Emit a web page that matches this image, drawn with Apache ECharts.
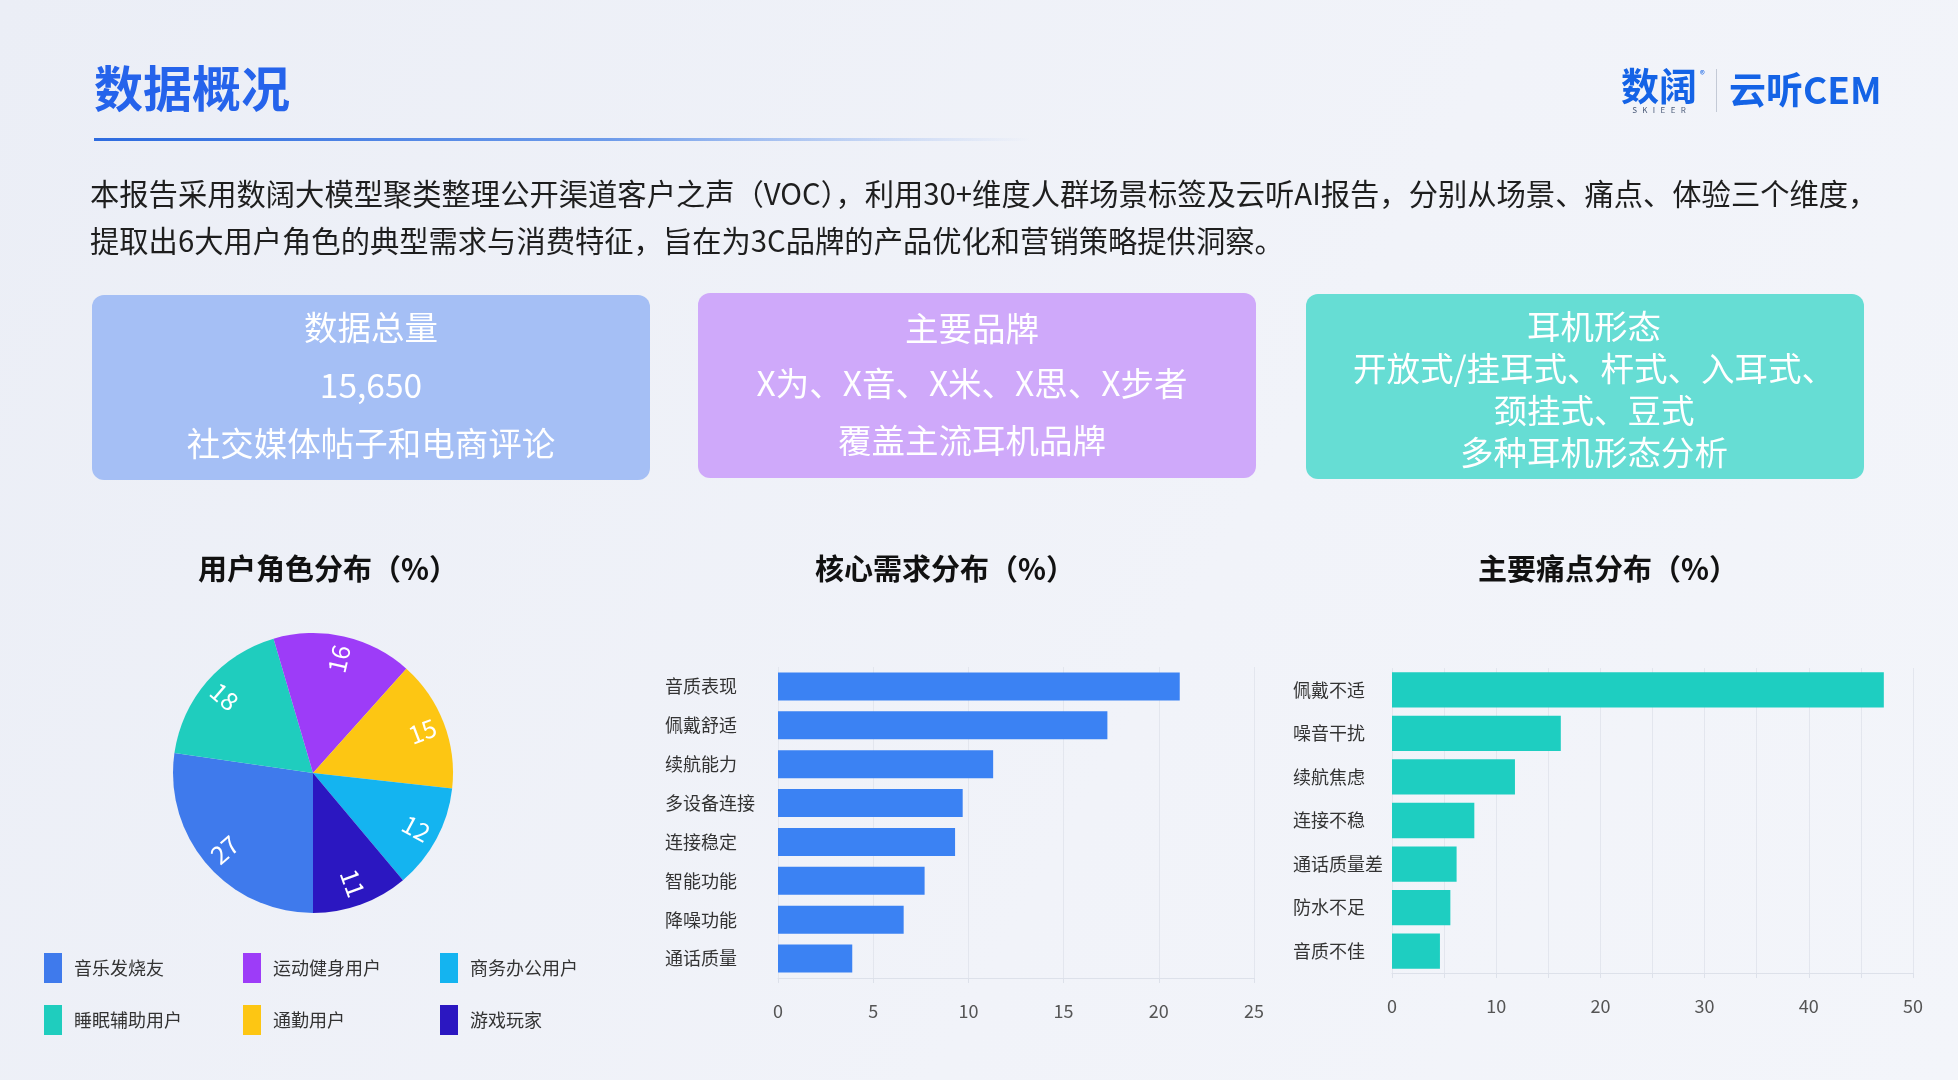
<!DOCTYPE html>
<html>
<head>
<meta charset="utf-8">
<script src="https://cdn.jsdelivr.net/npm/echarts@6/dist/echarts.min.js"></script>
<style>
  html, body { margin: 0; padding: 0; }
  #main { width: 1958px; height: 1080px; }
</style>
</head>
<body>
<div id="main"></div>
<script>
var FONT = '"Noto Sans CJK SC", "Noto Sans", sans-serif';

// 用户角色分布（%）
var roleNames = ['音乐发烧友', '睡眠辅助用户', '运动健身用户', '通勤用户', '商务办公用户', '游戏玩家'];
var roleValues = [27, 18, 16, 15, 12, 11];
var roleColors = ['#3F7AEC', '#1FCDBE', '#9D3CF8', '#FDC613', '#14B4F0', '#2B17C1'];

// 核心需求分布（%）
var needNames = ['音质表现', '佩戴舒适', '续航能力', '多设备连接', '连接稳定', '智能功能', '降噪功能', '通话质量'];
var needValues = [21.1, 17.3, 11.3, 9.7, 9.3, 7.7, 6.6, 3.9];

// 主要痛点分布（%）
var painNames = ['佩戴不适', '噪音干扰', '续航焦虑', '连接不稳', '通话质量差', '防水不足', '音质不佳'];
var painValues = [47.2, 16.2, 11.8, 7.9, 6.2, 5.6, 4.6];

// 顶部卡片
var cardLines = [
    ['数据总量', '15,650', '社交媒体帖子和电商评论'],
    ['主要品牌', 'X为、X音、X米、X思、X步者', '覆盖主流耳机品牌'],
    ['耳机形态', '开放式/挂耳式、杆式、入耳式、', '颈挂式、豆式', '多种耳机形态分析']
];
var introLines = [
    '本报告采用数阔大模型聚类整理公开渠道客户之声（VOC），利用30+维度人群场景标签及云听AI报告，分别从场景、痛点、体验三个维度，',
    '提取出6大用户角色的典型需求与消费特征，旨在为3C品牌的产品优化和营销策略提供洞察。'
];

var myChart = echarts.init(document.getElementById('main'));

// 卡片图形
var cardBox = [
    {x: 92, y: 295, color: '#A5BFF5', dx: 0, ys: [327, 385, 443]},
    {x: 698, y: 293, color: '#CFA9FA', dx: -5, ys: [328, 383, 440]},
    {x: 1306, y: 294, color: '#66DDD4', dx: 9, ys: [326, 368, 410, 452]}
];
var graphics = [];
cardBox.forEach(function (c, i) {
    graphics.push({
        type: 'rect', shape: {x: c.x, y: c.y, width: 558, height: 185, r: 12},
        style: {fill: c.color}
    });
    cardLines[i].forEach(function (t, j) {
        graphics.push({
            type: 'text', x: c.x + 279 + c.dx, y: c.ys[j],
            style: {text: t, fill: '#fff', font: '33.5px ' + FONT, textAlign: 'center', textVerticalAlign: 'middle'}
        });
    });
});

// 标题、分隔线、logo、简介
graphics.push(
    {type: 'text', x: 94, y: 88, style: {text: '数据概况', fill: '#2563EB', font: 'bold 49px ' + FONT, textVerticalAlign: 'middle'}},
    {type: 'rect', shape: {x: 94, y: 138, width: 936, height: 3},
        style: {fill: {type: 'linear', x: 0, y: 0, x2: 1, y2: 0, colorStops: [
            {offset: 0, color: '#2D6BDF'}, {offset: 0.55, color: '#6D9BEA'}, {offset: 1, color: 'rgba(140,175,240,0)'}]}}},
    {type: 'text', x: 1621, y: 86, style: {text: '数阔', fill: '#1463E6', font: 'bold 38px ' + FONT, textVerticalAlign: 'middle'}},
    {type: 'text', x: 1700, y: 74, style: {text: '®', fill: '#1463E6', font: '10px ' + FONT, textVerticalAlign: 'middle'}},
    {type: 'text', x: 1659, y: 110, style: {text: 'S   K   I   E   E   R', fill: '#4A5A78', font: '8px ' + FONT, textAlign: 'center', textVerticalAlign: 'middle'}},
    {type: 'rect', shape: {x: 1716, y: 69, width: 1, height: 43}, style: {fill: '#C4CAD6'}},
    {type: 'text', x: 1729, y: 90, style: {text: '云听CEM', fill: '#1463E6', font: 'bold 37px ' + FONT, textVerticalAlign: 'middle'}}
);
introLines.forEach(function (t, j) {
    graphics.push({type: 'text', x: 90, y: 194 + j * 47,
        style: {text: t, fill: '#1E1E1E', font: '29.3px ' + FONT, textVerticalAlign: 'middle'}});
});

var legendCols = [[0, 1], [2, 3], [4, 5]];
var legendLeft = [44, 243, 440];
var legends = legendCols.map(function (col, k) {
    return {
        left: legendLeft[k], top: 953, orient: 'vertical', padding: 0,
        itemWidth: 18, itemHeight: 30, itemGap: 22, icon: 'rect',
        selectedMode: false,
        textStyle: {fontSize: 18, color: '#333', fontFamily: FONT, padding: [0, 0, 0, 7]},
        data: col.map(function (i) {
            return {name: roleNames[i], itemStyle: {color: roleColors[i]}};
        })
    };
});

var pieData = roleNames.map(function (n, i) {
    return {name: n, value: roleValues[i], itemStyle: {color: roleColors[i]}};
});

var titleFont = {fontSize: 29, fontWeight: 'bold', color: '#111', fontFamily: FONT};

var option = {
    backgroundColor: {type: 'linear', x: 0, y: 0, x2: 1, y2: 1, colorStops: [
        {offset: 0, color: '#EBEEF6'}, {offset: 0.6, color: '#F1F3F9'}, {offset: 1, color: '#F3F5FA'}]},
    animation: false,
    graphic: graphics,
    title: [
        {text: '用户角色分布（%）', left: 328, top: 554, padding: 0, textAlign: 'center', textStyle: titleFont},
        {text: '核心需求分布（%）', left: 945, top: 554, padding: 0, textAlign: 'center', textStyle: titleFont},
        {text: '主要痛点分布（%）', left: 1608, top: 554, padding: 0, textAlign: 'center', textStyle: titleFont}
    ],
    legend: legends,
    grid: [
        {left: 778, right: 704, top: 667, bottom: 102},
        {left: 1392, right: 45, top: 668, bottom: 107}
    ],
    xAxis: [
        {
            type: 'value', gridIndex: 0, min: 0, max: 25, interval: 5,
            axisLine: {show: true, lineStyle: {color: '#DDE1EA'}},
            axisTick: {show: true, lineStyle: {color: '#DDE1EA'}},
            splitLine: {lineStyle: {color: '#E3E6EE'}},
            axisLabel: {fontSize: 18, color: '#555', margin: 24, fontFamily: FONT}
        },
        {
            type: 'value', gridIndex: 1, min: 0, max: 50, interval: 5,
            axisLine: {show: true, lineStyle: {color: '#DDE1EA'}},
            axisTick: {show: true, lineStyle: {color: '#DDE1EA'}},
            splitLine: {lineStyle: {color: '#E3E6EE'}},
            axisLabel: {fontSize: 18, color: '#555', margin: 24, fontFamily: FONT,
                formatter: function (v) { return v % 10 === 0 ? v : ''; }}
        }
    ],
    yAxis: [
        {
            type: 'category', gridIndex: 0, data: needNames, inverse: true,
            axisLine: {show: false}, axisTick: {show: false},
            axisLabel: {align: 'left', margin: 113, fontSize: 18, color: '#333', fontFamily: FONT}
        },
        {
            type: 'category', gridIndex: 1, data: painNames, inverse: true,
            axisLine: {show: false}, axisTick: {show: false},
            axisLabel: {align: 'left', margin: 99, fontSize: 18, color: '#333', fontFamily: FONT}
        }
    ],
    series: [
        {
            type: 'pie', center: [313, 773], radius: 140,
            startAngle: 270, clockwise: true,
            label: {show: false}, labelLine: {show: false},
            data: pieData
        },
        {
            // 只用来放标签
            type: 'pie', center: [313, 773], radius: [88, 140],
            startAngle: 270, clockwise: true, silent: true,
            itemStyle: {color: 'rgba(0,0,0,0)'},
            label: {show: true, position: 'inside', rotate: 'radial', color: '#fff', fontSize: 25, fontFamily: FONT,
                formatter: '{c}'},
            labelLine: {show: false},
            data: roleNames.map(function (n, i) { return {name: n, value: roleValues[i]}; })
        },
        {
            type: 'bar', xAxisIndex: 0, yAxisIndex: 0, data: needValues,
            barCategoryGap: '28%', itemStyle: {color: '#3B82F3'}
        },
        {
            type: 'bar', xAxisIndex: 1, yAxisIndex: 1, data: painValues,
            barCategoryGap: '19%', itemStyle: {color: '#1ECEC1'}
        }
    ]
};
myChart.setOption(option);
</script>
</body>
</html>
